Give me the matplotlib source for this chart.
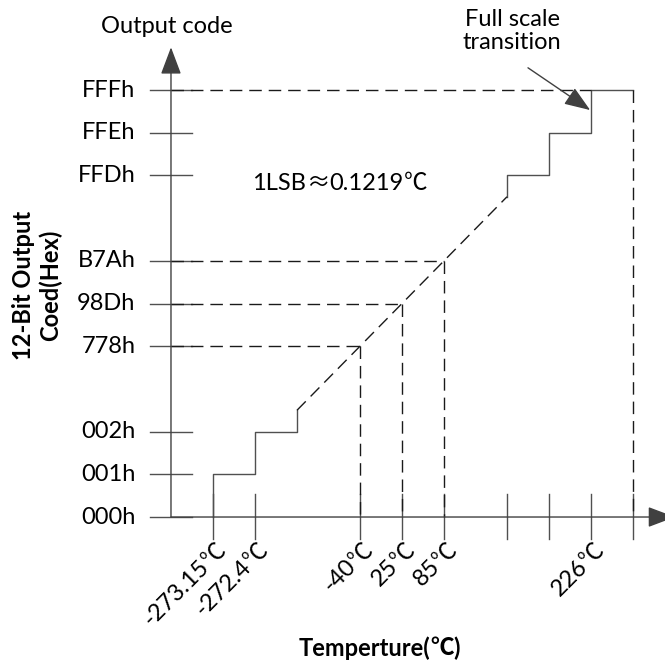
import matplotlib.pyplot as plt

# schematic slots (1 slot ~ one tick spacing)
y_codes = ['000h', '001h', '002h', '778h', '98Dh', 'B7Ah', 'FFDh', 'FFEh', 'FFFh']
y_slots = [0, 1, 2, 4, 5, 6, 8, 9, 10]

x_labels = ['-273.15', '-272.4', '-40', '25', '85', '', '', '226', '']
x_slots = [1, 2, 4.5, 5.5, 6.5, 8, 9, 10, 11]

# staircase at the low end and at full scale
low_x = [1, 1, 2, 2, 3, 3]
low_y = [0, 1, 1, 2, 2, 2.5]
high_x = [8, 8, 9, 9, 10, 10, 11]
high_y = [7.5, 8, 8, 9, 9, 10, 10]
# ideal transfer line (dashed) between the two staircases
ramp_x = [3, 8]
ramp_y = [2.5, 7.5]

# marked points: (temperature slot, code slot)
marks_x = [4.5, 5.5, 6.5]
marks_y = [4, 5, 6]

fig = plt.figure(figsize=(6.65, 6.66), dpi=100)
ax = fig.add_axes([0, 0, 1, 1])
ax.set_xlim(-4.071, 11.762)
ax.set_ylim(-3.489, 12.108)
ax.axis('off')

fam = ['Lato', 'Noto Sans CJK SC', 'DejaVu Sans']
cjk = ['Noto Sans CJK SC', 'DejaVu Sans']
fs = 17
solid = '#505050'
dash = '#1a1a1a'
dsh = (9, 5)
head = '-|>,head_length=0.85,head_width=0.32'

# axes with arrow heads
for tip in [(0, 11), (12, 0)]:
    ax.annotate('', xy=tip, xytext=(0, 0), annotation_clip=False,
                arrowprops=dict(arrowstyle=head, mutation_scale=20,
                                color='#404040', lw=1.0, shrinkA=0, shrinkB=0))

# y ticks + labels
for s, lab in zip(y_slots, y_codes):
    ax.plot([-0.5, 0.5], [s, s], color=solid, lw=1.0)
    ax.text(-0.85, s, lab, ha='right', va='center', fontsize=fs, family=fam)

# x ticks + rotated labels (number in Lato, degree sign from the CJK font)
for s, lab in zip(x_slots, x_labels):
    ax.plot([s, s], [-0.52, 0.54], color=solid, lw=1.0)
    if lab:
        ax.text(s - 0.17, -1.08, lab, ha='right', va='center', rotation=45,
                rotation_mode='anchor', fontsize=fs, family=fam)
        ax.text(s - 0.17, -1.08, '℃', ha='left', va='center', rotation=45,
                rotation_mode='anchor', fontsize=fs, family=cjk)

# staircases
ax.plot(low_x, low_y, color=solid, lw=1.0)
ax.plot(high_x, high_y, color=solid, lw=1.0)
ax.plot(ramp_x, ramp_y, color=dash, lw=1.0, dashes=dsh)

# guides to the marked points
for mx, my in zip(marks_x, marks_y):
    ax.plot([0, mx], [my, my], color=dash, lw=1.0, dashes=dsh)
    ax.plot([mx, mx], [my, 0], color=dash, lw=1.0, dashes=dsh)

# full scale guides
ax.plot([0, high_x[-2]], [high_y[-1], high_y[-1]], color=dash, lw=1.0, dashes=dsh)
ax.plot([high_x[-1], high_x[-1]], [high_y[-1], 0], color=dash, lw=1.0, dashes=dsh)

ax.annotate('', xy=(9.98, 9.53), xytext=(8.5, 10.52),
            arrowprops=dict(arrowstyle='-|>,head_length=0.8,head_width=0.3',
                            mutation_scale=20, color='#404040', lw=1.0,
                            shrinkA=0, shrinkB=0))

ax.text(-0.095, 11.48, 'Output code', ha='center', va='center', fontsize=fs, family=fam)
ax.text(8.12, 11.38, 'Full scale\ntransition', ha='center', va='center',
        fontsize=fs, family=fam, linespacing=1.15)

# 1LSB text built from pieces so the symbols come from the CJK font
t = ax.text(1.93, 7.82, '1LSB', ha='left', va='center', fontsize=fs, family=fam)
for piece, f in [('≈', cjk), ('0.1219', fam), ('℃', cjk)]:
    t = ax.annotate(piece, xy=(1, 0.5), xycoords=t, ha='left', va='center',
                    fontsize=fs, family=f)

ax.text(-3.19, 5.43, '12-Bit Output\nCoed(Hex)', ha='center', va='center',
        rotation=90, fontsize=fs, fontweight='bold', family=fam, linespacing=1.2)
t = ax.text(3.03, -3.07, 'Temperture(', ha='left', va='center', fontsize=fs,
            fontweight='bold', family=fam)
t = ax.annotate('℃', xy=(1, 0.5), xycoords=t, ha='left', va='center',
                fontsize=fs, fontweight='bold', family=cjk)
ax.annotate(')', xy=(1, 0.5), xycoords=t, ha='left', va='center',
            fontsize=fs, fontweight='bold', family=fam)

fig.savefig('out.png', dpi=100)
